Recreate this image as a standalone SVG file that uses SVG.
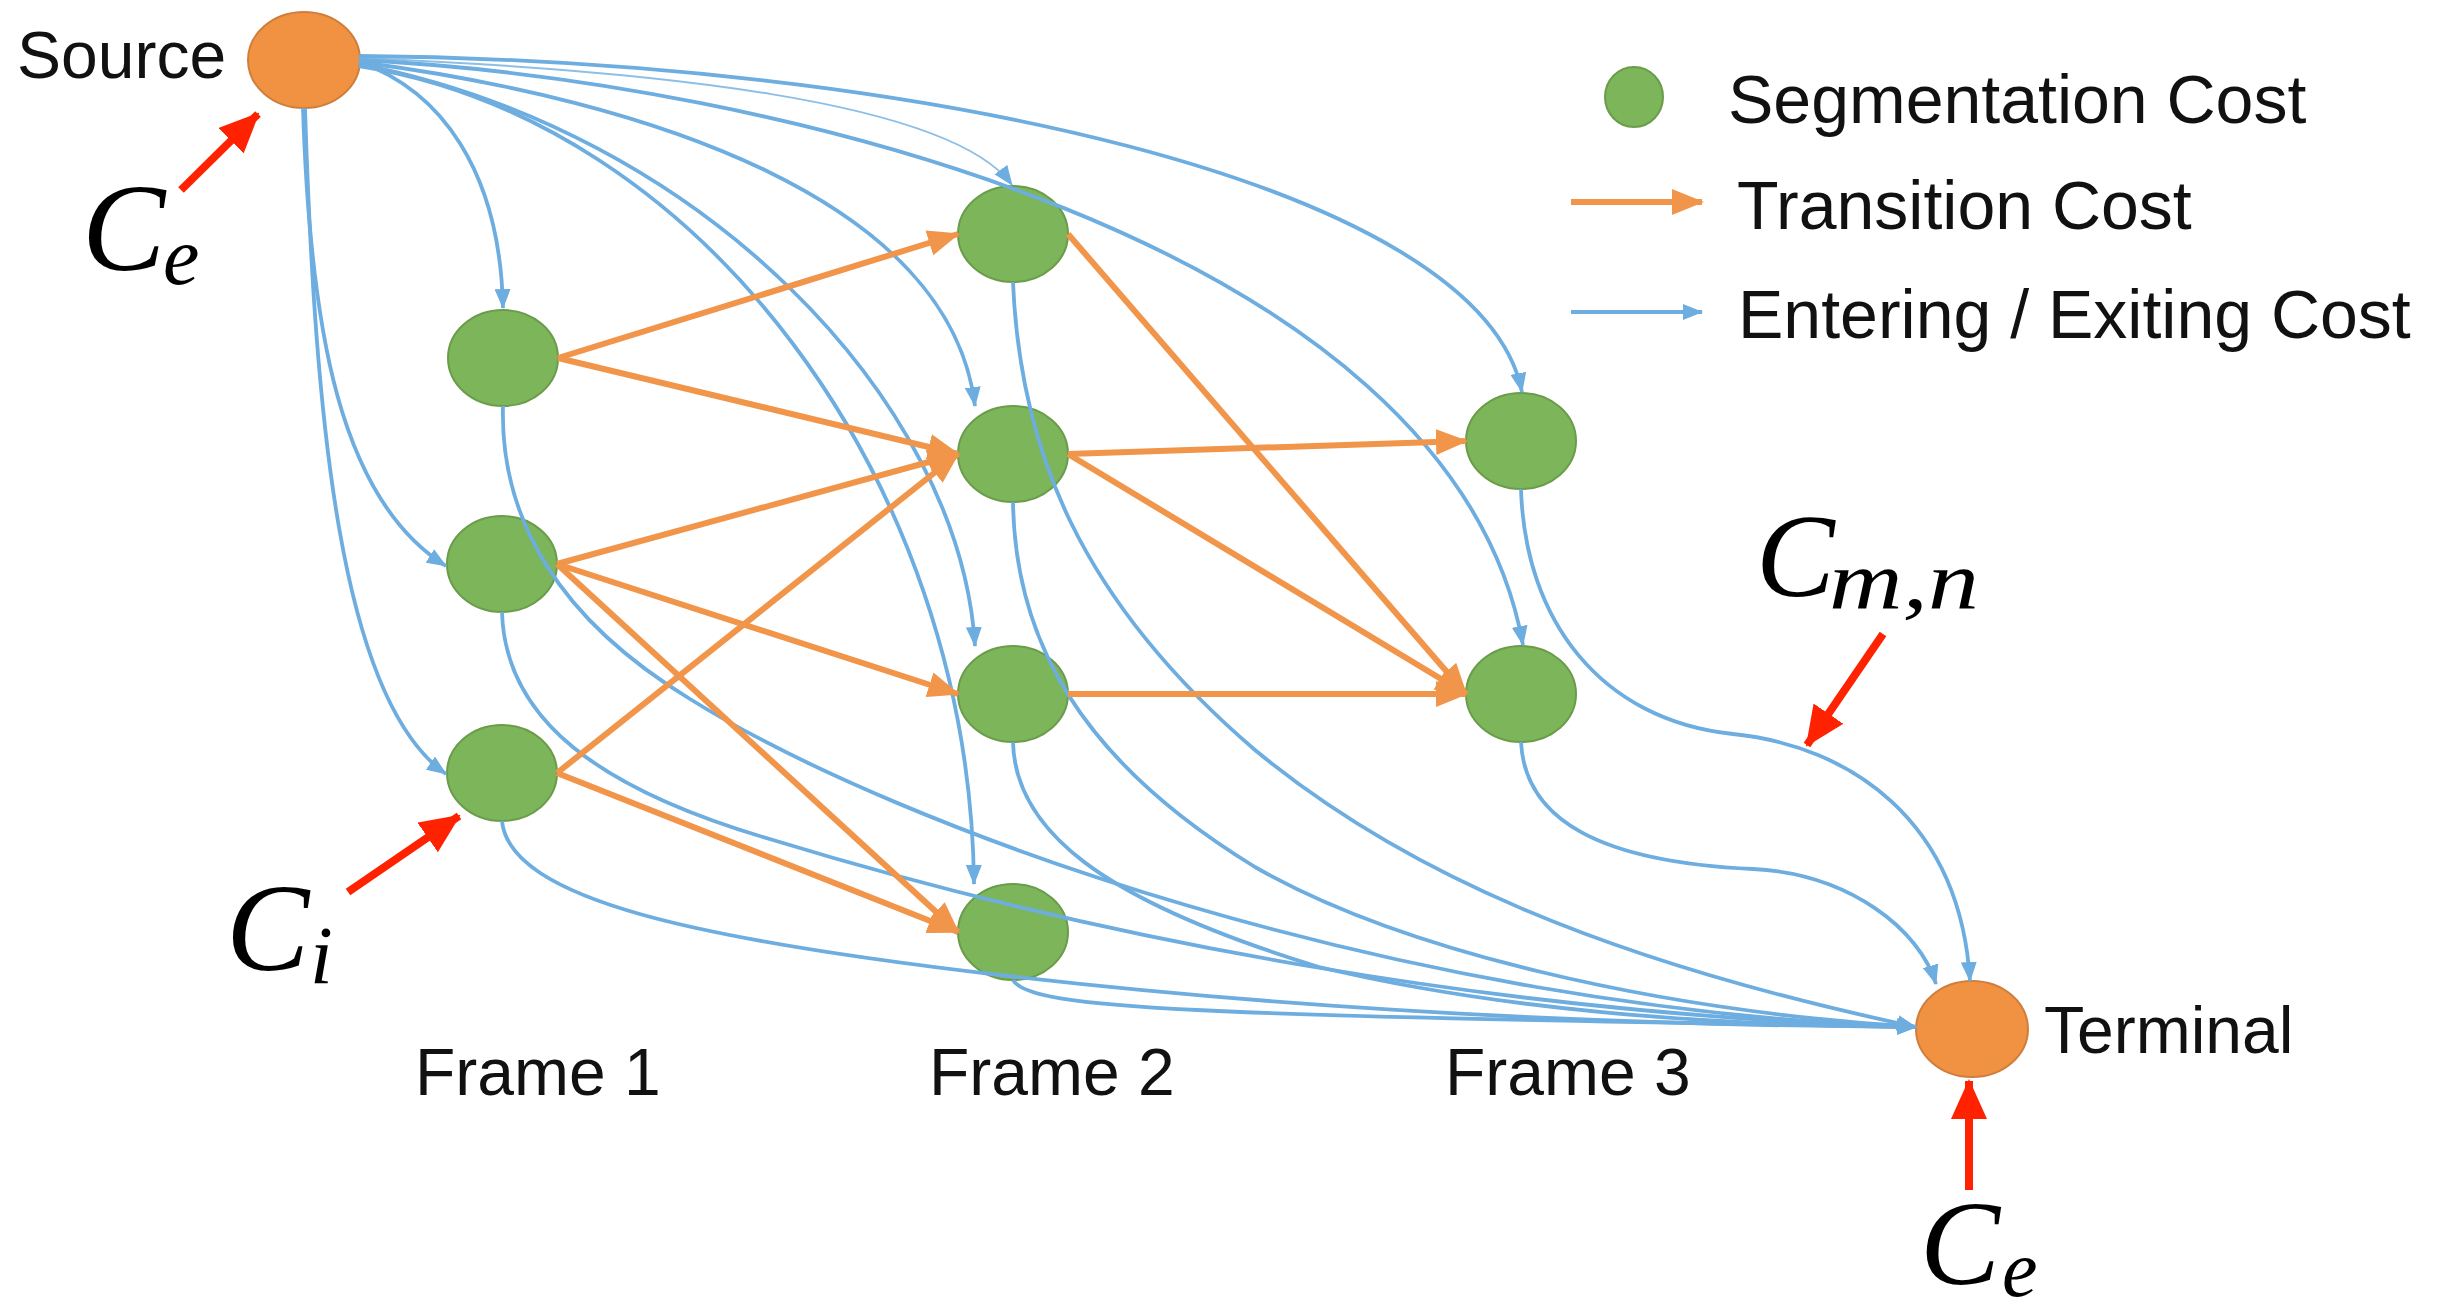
<svg xmlns="http://www.w3.org/2000/svg" width="2444" height="1315" viewBox="0 0 2444 1315">
<defs>
<style>
.lbl{font-family:"Liberation Sans",Arial,sans-serif;fill:#111;}
.math{font-family:"Liberation Serif","Times New Roman",serif;font-style:italic;fill:#000;}
.green{fill:#7DB55A;stroke:#6A9C4A;stroke-width:2;}
.orangeN{fill:#F09242;stroke:#CF7E3C;stroke-width:2;}
.blueA{fill:none;stroke:#6DADDF;stroke-width:3.8;marker-end:url(#ab);}
.thin{fill:none;stroke:#8DBFE6;stroke-width:2;marker-end:url(#ab);}
.tr{fill:none;stroke:#F0954A;stroke-width:6;marker-end:url(#ao);}
.red{fill:none;stroke:#FF2200;stroke-width:8;marker-end:url(#ar);}
</style>
<marker id="ab" markerUnits="userSpaceOnUse" markerWidth="20" markerHeight="16" refX="19" refY="8" orient="auto"><path d="M0,0 L20,8 L0,16 z" fill="#6DADDF"/></marker>
<marker id="ao" markerUnits="userSpaceOnUse" markerWidth="32" markerHeight="26" refX="30" refY="13" orient="auto"><path d="M0,0 L32,13 L0,26 z" fill="#F0954A"/></marker>
<marker id="ar" markerUnits="userSpaceOnUse" markerWidth="40" markerHeight="36" refX="38" refY="18" orient="auto"><path d="M0,0 L40,18 L0,36 z" fill="#FF2200"/></marker>
</defs>
<rect width="2444" height="1315" fill="#fff"/>

<g id="nodes">
<g id="source"><ellipse class="orangeN" cx="304" cy="60" rx="56" ry="48"/><text class="lbl" x="17" y="78" font-size="66">Source</text></g>
<g id="terminal"><ellipse class="orangeN" cx="1972" cy="1029" rx="56" ry="48"/><text class="lbl" x="2044" y="1053" font-size="66">Terminal</text></g>
<g id="f1a"><ellipse class="green" cx="503" cy="358" rx="55" ry="48"/></g>
<g id="f1b"><ellipse class="green" cx="502" cy="564" rx="55" ry="48"/></g>
<g id="f1c"><ellipse class="green" cx="502" cy="773" rx="55" ry="48"/></g>
<g id="f2a"><ellipse class="green" cx="1013" cy="234" rx="55" ry="48"/></g>
<g id="f2b"><ellipse class="green" cx="1013" cy="454" rx="55" ry="48"/></g>
<g id="f2c"><ellipse class="green" cx="1013" cy="694" rx="55" ry="48"/></g>
<g id="f2d"><ellipse class="green" cx="1013" cy="932" rx="55" ry="48"/></g>
<g id="f3a"><ellipse class="green" cx="1521" cy="441" rx="55" ry="48"/></g>
<g id="f3b"><ellipse class="green" cx="1521" cy="694" rx="55" ry="48"/></g>
</g>

<g id="connectors">
<!-- entering edges -->
<path class="blueA" d="M359,62 C440,90 500,170 503,308"/>
<path class="blueA" d="M303,108 C310,330 340,500 446,566"/>
<path class="blueA" d="M305,108 C315,420 340,700 446,774"/>
<path class="thin" d="M359,58 C650,70 950,100 1012,185"/>
<path class="blueA" d="M359,62 C650,100 950,200 975,406"/>
<path class="blueA" d="M359,64 C700,130 960,400 975,646"/>
<path class="blueA" d="M359,66 C700,120 970,480 974,884"/>
<path class="blueA" d="M359,56 C900,60 1480,180 1522,392"/>
<path class="blueA" d="M359,60 C760,80 1450,240 1523,645"/>
<!-- exiting edges -->
<path class="blueA" d="M503,406 C500,520 560,620 690,699 C900,830 1400,1010 1916,1027"/>
<path class="blueA" d="M502,612 C505,720 600,790 773,840 C1100,940 1500,1015 1916,1027"/>
<path class="blueA" d="M502,821 C510,900 700,940 1000,975 C1300,1010 1600,1025 1916,1027"/>
<path class="blueA" d="M1013,282 C1020,450 1080,600 1255,750 C1400,870 1600,960 1916,1027"/>
<path class="blueA" d="M1013,502 C1015,640 1080,760 1255,867 C1400,950 1650,1010 1916,1027"/>
<path class="blueA" d="M1013,742 C1015,830 1100,900 1319,967 C1500,1010 1700,1025 1916,1027"/>
<path class="blueA" d="M1013,980 C1030,1010 1200,1015 1916,1027"/>
<path class="blueA" d="M1521,489 C1525,620 1600,720 1733,734 C1850,746 1960,820 1970,981"/>
<path class="blueA" d="M1521,742 C1525,820 1600,862 1753,869 C1850,874 1920,930 1936,984"/>
<!-- transition edges -->
<path class="tr" d="M558,358 L958,234"/>
<path class="tr" d="M558,358 L958,454"/>
<path class="tr" d="M557,564 L958,454"/>
<path class="tr" d="M557,564 L958,694"/>
<path class="tr" d="M557,564 L958,932"/>
<path class="tr" d="M557,773 L958,454"/>
<path class="tr" d="M557,773 L958,932"/>
<path class="tr" d="M1068,234 L1466,694"/>
<path class="tr" d="M1068,454 L1466,441"/>
<path class="tr" d="M1068,454 L1466,694"/>
<path class="tr" d="M1068,694 L1466,694"/>
</g>

<g id="legend">
<ellipse class="green" cx="1634" cy="97" rx="29" ry="30"/>
<text class="lbl" x="1728" y="123" font-size="68">Segmentation Cost</text>
<path class="tr" d="M1571,202 L1702,202"/>
<text class="lbl" x="1737" y="229" font-size="68">Transition Cost</text>
<path class="blueA" d="M1571,312 L1702,312"/>
<text class="lbl" x="1738" y="338" font-size="68">Entering / Exiting Cost</text>
</g>

<g id="frames">
<text class="lbl" x="415" y="1095" font-size="66">Frame 1</text>
<text class="lbl" x="929" y="1095" font-size="66">Frame 2</text>
<text class="lbl" x="1445" y="1095" font-size="66">Frame 3</text>
</g>

<g id="annotations">
<path class="red" d="M181,190 L258,114"/>
<text class="math" x="82" y="270" font-size="125">C</text><text class="math" x="163" y="284" font-size="82">e</text>
<path class="red" d="M348,892 L459,816"/>
<text class="math" x="226" y="970" font-size="125">C</text><text class="math" x="310" y="983" font-size="82">i</text>
<path class="red" d="M1883,634 L1807,745"/>
<text class="math" x="1756" y="596" font-size="118">C</text><text class="math" x="1829" y="608" font-size="82" textLength="150" lengthAdjust="spacingAndGlyphs">m,n</text>
<path class="red" d="M1969,1190 L1969,1081"/>
<text class="math" x="1920" y="1284" font-size="120">C</text><text class="math" x="2002" y="1296" font-size="80">e</text>
</g>
</svg>
